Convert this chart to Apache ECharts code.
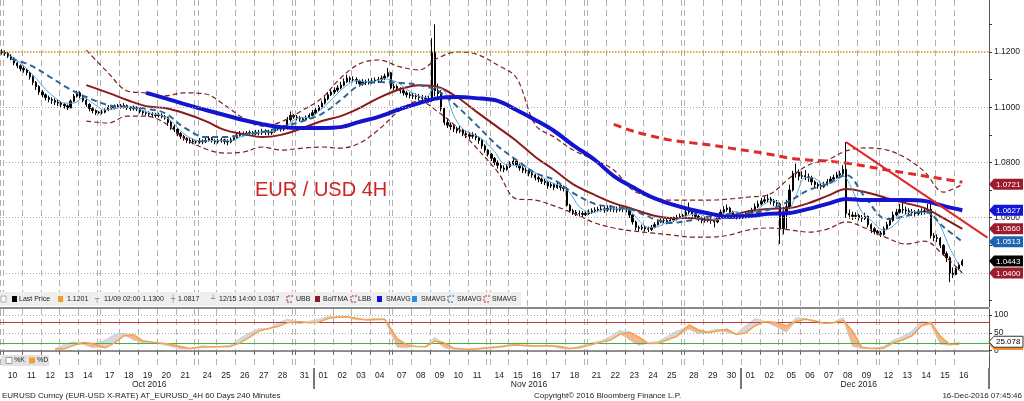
<!DOCTYPE html>
<html><head><meta charset="utf-8">
<script src="https://cdn.jsdelivr.net/npm/echarts@6/dist/echarts.min.js"></script>
<style>html,body{margin:0;padding:0;background:#fff}#c{width:1024px;height:401px}</style>
</head><body><div id="c"></div>
<script>
// ---------------- DATA ----------------
const dayLabels = ['10','11','12','13','14','17','18','19','20','21','24','25','26','27','28','31',
 '01','02','03','04','07','08','09','10','11','14','15','16','17','18','21','22','23','24','25','28','29','30',
 '01','02','05','06','07','08','09','12','13','14','15','16'];
const monthNames = ['Oct 2016','Nov 2016','Dec 2016'];
const weekendAfter = [4,9,14,19,24,29,34,39,44]; // Fridays (day index) followed by a weekend bar
const firstOpen = 1.1201;

// 4H bars (closes / highs / lows), one per bar slot
const closes = [
 1.1198,
 1.1195,1.1185,1.1178,1.1160,1.1150,1.1140,
 1.1135,1.1125,1.1110,1.1090,1.1075,1.1055,
 1.1045,1.1035,1.1028,1.1025,1.1018,1.1015,
 1.1010,1.1005,1.0998,1.1022,1.1040,1.1052,
 1.1040,1.1025,1.1010,1.0995,1.0988,1.0980, 1.0982,
 1.0982,1.0990,1.1000,1.0998,1.1003,1.1005,
 1.1002,1.1006,1.0998,1.0995,1.0998,1.0994,
 1.0985,1.0980,1.0978,1.0975,1.0972,1.0970,
 1.0972,1.0966,1.0962,1.0945,1.0930,1.0920,
 1.0905,1.0895,1.0888,1.0880,1.0878,1.0875, 1.0874,
 1.0878,1.0875,1.0880,1.0886,1.0880,1.0875,
 1.0878,1.0882,1.0876,1.0874,1.0882,1.0890,
 1.0898,1.0905,1.0903,1.0906,1.0908,1.0905,
 1.0910,1.0908,1.0912,1.0910,1.0908,1.0912,
 1.0922,1.0925,1.0920,1.0926,1.0955,1.0970, 1.0965,
 1.0962,1.0958,1.0955,1.0962,1.0970,1.0980,
 1.0990,1.1000,1.1015,1.1030,1.1045,1.1055,
 1.1062,1.1070,1.1080,1.1092,1.1105,1.1100,
 1.1100,1.1095,1.1085,1.1092,1.1090,1.1092,
 1.1095,1.1098,1.1100,1.1105,1.1112,1.1125, 1.1070,
 1.1075,1.1068,1.1060,1.1052,1.1045,1.1042,
 1.1040,1.1038,1.1035,1.1032,1.1030,1.1028,
 1.1200,1.1060,1.1050,1.0995,1.0945,1.0935,
 1.0930,1.0922,1.0915,1.0918,1.0905,1.0900,
 1.0895,1.0898,1.0890,1.0880,1.0860,1.0845, 1.0830,
 1.0815,1.0800,1.0790,1.0780,1.0775,1.0785,
 1.0795,1.0805,1.0790,1.0780,1.0772,1.0770,
 1.0760,1.0755,1.0745,1.0740,1.0732,1.0728,
 1.0715,1.0720,1.0710,1.0718,1.0710,1.0705,
 1.0645,1.0625,1.0620,1.0615,1.0615,1.0612, 1.0615,
 1.0620,1.0625,1.0628,1.0630,1.0632,1.0628,
 1.0635,1.0632,1.0630,1.0628,1.0635,1.0632,
 1.0630,1.0610,1.0585,1.0565,1.0562,1.0565,
 1.0560,1.0558,1.0565,1.0575,1.0585,1.0590,
 1.0590,1.0585,1.0592,1.0595,1.0600,1.0605, 1.0608,
 1.0620,1.0625,1.0615,1.0605,1.0598,1.0590,
 1.0592,1.0595,1.0590,1.0585,1.0600,1.0620,
 1.0630,1.0635,1.0620,1.0610,1.0605,1.0605,
 1.0608,1.0610,1.0615,1.0625,1.0640,1.0650,
 1.0660,1.0665,1.0668,1.0660,1.0655,1.0650, 1.0560,
 1.0620,1.0640,1.0700,1.0760,1.0765,1.0750,
 1.0752,1.0748,1.0745,1.0730,1.0720,1.0715,
 1.0712,1.0720,1.0730,1.0740,1.0745,1.0755,
 1.0760,1.0775,1.0615,1.0610,1.0605,1.0608,
 1.0600,1.0598,1.0605,1.0575,1.0560,1.0550, 1.0545,
 1.0540,1.0560,1.0575,1.0590,1.0610,1.0620,
 1.0630,1.0628,1.0625,1.0620,1.0618,1.0615,
 1.0620,1.0622,1.0625,1.0630,1.0535,1.0528,
 1.0525,1.0500,1.0470,1.0455,1.0400,1.0395,
 1.0415,1.0430,1.0443
];
const highs = [
 1.1210,
 1.1206,1.1200,1.1192,1.1182,1.1165,1.1155,
 1.1148,1.1140,1.1130,1.1115,1.1095,1.1080,
 1.1062,1.1050,1.1042,1.1036,1.1032,1.1028,
 1.1022,1.1016,1.1010,1.1028,1.1048,1.1060,
 1.1058,1.1045,1.1030,1.1015,1.1000,1.0992, 1.0986,
 1.0990,1.0996,1.1008,1.1006,1.1010,1.1012,
 1.1012,1.1015,1.1010,1.1004,1.1006,1.1003,
 1.0998,1.0990,1.0988,1.0985,1.0982,1.0980,
 1.0980,1.0978,1.0972,1.0966,1.0950,1.0936,
 1.0924,1.0910,1.0900,1.0892,1.0888,1.0886, 1.0880,
 1.0888,1.0884,1.0890,1.0895,1.0892,1.0884,
 1.0886,1.0890,1.0886,1.0884,1.0890,1.0898,
 1.0906,1.0914,1.0912,1.0914,1.0916,1.0914,
 1.0918,1.0918,1.0922,1.0920,1.0918,1.0920,
 1.0930,1.0932,1.0930,1.0935,1.0965,1.0985, 1.0975,
 1.0972,1.0968,1.0964,1.0970,1.0978,1.0990,
 1.0998,1.1008,1.1024,1.1040,1.1055,1.1065,
 1.1072,1.1080,1.1092,1.1104,1.1118,1.1112,
 1.1112,1.1108,1.1100,1.1102,1.1100,1.1104,
 1.1106,1.1108,1.1110,1.1115,1.1122,1.1142, 1.1128,
 1.1085,1.1082,1.1072,1.1066,1.1058,1.1054,
 1.1052,1.1050,1.1048,1.1045,1.1042,1.1040,
 1.1250,1.1300,1.1085,1.1062,1.1000,1.0958,
 1.0945,1.0938,1.0930,1.0932,1.0924,1.0915,
 1.0910,1.0910,1.0905,1.0896,1.0884,1.0866, 1.0848,
 1.0834,1.0820,1.0808,1.0798,1.0790,1.0795,
 1.0804,1.0816,1.0812,1.0796,1.0786,1.0782,
 1.0776,1.0768,1.0760,1.0752,1.0745,1.0740,
 1.0732,1.0730,1.0725,1.0728,1.0722,1.0716,
 1.0712,1.0650,1.0632,1.0628,1.0626,1.0624, 1.0622,
 1.0630,1.0634,1.0638,1.0640,1.0645,1.0640,
 1.0645,1.0646,1.0642,1.0640,1.0648,1.0644,
 1.0642,1.0634,1.0612,1.0590,1.0572,1.0575,
 1.0572,1.0568,1.0574,1.0584,1.0594,1.0598,
 1.0598,1.0596,1.0600,1.0604,1.0610,1.0615, 1.0614,
 1.0640,1.0655,1.0630,1.0620,1.0610,1.0604,
 1.0602,1.0606,1.0602,1.0596,1.0612,1.0630,
 1.0642,1.0648,1.0640,1.0625,1.0618,1.0616,
 1.0620,1.0622,1.0628,1.0636,1.0652,1.0662,
 1.0672,1.0678,1.0685,1.0675,1.0668,1.0664, 1.0655,
 1.0640,1.0665,1.0720,1.0770,1.0796,1.0775,
 1.0768,1.0772,1.0760,1.0752,1.0735,1.0728,
 1.0724,1.0730,1.0740,1.0750,1.0756,1.0766,
 1.0770,1.0790,1.0874,1.0630,1.0622,1.0620,
 1.0614,1.0610,1.0618,1.0608,1.0580,1.0566, 1.0556,
 1.0552,1.0568,1.0585,1.0600,1.0622,1.0632,
 1.0650,1.0654,1.0640,1.0634,1.0632,1.0628,
 1.0632,1.0634,1.0636,1.0650,1.0660,1.0545,
 1.0540,1.0530,1.0505,1.0478,1.0460,1.0420,
 1.0420,1.0438,1.0450
];
const lows = [
 1.1190,
 1.1186,1.1178,1.1170,1.1152,1.1142,1.1130,
 1.1125,1.1115,1.1100,1.1080,1.1062,1.1045,
 1.1036,1.1025,1.1018,1.1012,1.1008,1.1004,
 1.1000,1.0995,1.0990,1.0996,1.1018,1.1035,
 1.1032,1.1018,1.1002,1.0985,1.0978,1.0972, 1.0976,
 1.0974,1.0978,1.0986,1.0990,1.0992,1.0996,
 1.0995,1.0996,1.0990,1.0987,1.0988,1.0986,
 1.0978,1.0972,1.0970,1.0966,1.0964,1.0962,
 1.0963,1.0960,1.0955,1.0932,1.0918,1.0910,
 1.0895,1.0885,1.0879,1.0870,1.0868,1.0866, 1.0868,
 1.0868,1.0866,1.0870,1.0876,1.0872,1.0866,
 1.0868,1.0872,1.0866,1.0862,1.0870,1.0878,
 1.0886,1.0894,1.0894,1.0896,1.0898,1.0896,
 1.0898,1.0898,1.0900,1.0900,1.0898,1.0900,
 1.0908,1.0914,1.0912,1.0914,1.0920,1.0948, 1.0958,
 1.0952,1.0948,1.0946,1.0950,1.0958,1.0966,
 1.0975,1.0985,1.0995,1.1010,1.1025,1.1040,
 1.1048,1.1055,1.1065,1.1076,1.1088,1.1090,
 1.1090,1.1084,1.1075,1.1078,1.1080,1.1082,
 1.1084,1.1086,1.1088,1.1092,1.1098,1.1108, 1.1065,
 1.1062,1.1058,1.1050,1.1042,1.1035,1.1032,
 1.1030,1.1028,1.1024,1.1022,1.1018,1.1016,
 1.1020,1.1040,1.1025,1.0985,1.0935,1.0925,
 1.0918,1.0910,1.0905,1.0906,1.0895,1.0888,
 1.0885,1.0886,1.0880,1.0868,1.0850,1.0835, 1.0822,
 1.0805,1.0790,1.0778,1.0768,1.0765,1.0770,
 1.0780,1.0790,1.0782,1.0770,1.0762,1.0760,
 1.0750,1.0745,1.0735,1.0728,1.0722,1.0718,
 1.0705,1.0708,1.0700,1.0704,1.0698,1.0695,
 1.0640,1.0618,1.0610,1.0606,1.0605,1.0602, 1.0606,
 1.0610,1.0614,1.0618,1.0620,1.0622,1.0618,
 1.0622,1.0622,1.0620,1.0618,1.0622,1.0620,
 1.0620,1.0600,1.0575,1.0555,1.0552,1.0555,
 1.0550,1.0548,1.0552,1.0562,1.0572,1.0580,
 1.0580,1.0576,1.0582,1.0585,1.0590,1.0595, 1.0600,
 1.0605,1.0612,1.0605,1.0595,1.0588,1.0580,
 1.0582,1.0584,1.0578,1.0565,1.0580,1.0595,
 1.0615,1.0622,1.0608,1.0600,1.0594,1.0595,
 1.0596,1.0598,1.0602,1.0610,1.0622,1.0635,
 1.0645,1.0652,1.0655,1.0648,1.0642,1.0638, 1.0505,
 1.0540,1.0560,1.0635,1.0695,1.0745,1.0735,
 1.0740,1.0736,1.0730,1.0718,1.0708,1.0705,
 1.0702,1.0708,1.0716,1.0726,1.0734,1.0742,
 1.0748,1.0755,1.0600,1.0596,1.0592,1.0595,
 1.0590,1.0585,1.0592,1.0565,1.0545,1.0540, 1.0538,
 1.0530,1.0535,1.0555,1.0570,1.0585,1.0605,
 1.0615,1.0615,1.0612,1.0608,1.0606,1.0604,
 1.0608,1.0610,1.0612,1.0615,1.0525,1.0515,
 1.0512,1.0490,1.0462,1.0440,1.0367,1.0382,
 1.0392,1.0410,1.0425
];

// indicator lines, one value per trading day
const ubb = [null,null,null,null,1.1207,
 1.1124,1.1059,1.1052,1.1041,1.1052, 1.1048,1.1008,1.0961,1.0932,1.0947,
 1.0990,1.1033,1.1106,1.1157,1.1171, 1.1146,1.1135,1.1178,1.1200,1.1193,
 1.1153,1.1106,1.0936,1.0892,1.0845, 1.0809,1.0773,1.0700,1.0675,1.0664,
 1.0664,1.0664,1.0668,1.0675,1.0682, 1.0744,1.0791,1.0809,1.0842,1.0853,
 1.0845,1.0816,1.0766,1.0693,1.0721];
const bolTMA = [null,null,null,null,1.1080,
 1.1052,1.1026,1.1004,1.0997,1.0979, 1.0950,1.0918,1.0903,1.0892,1.0900,
 1.0925,1.0950,1.0968,1.0997,1.1033, 1.1066,1.1080,1.1073,1.1037,1.0986,
 1.0928,1.0878,1.0820,1.0773,1.0722, 1.0682,1.0653,1.0632,1.0610,1.0599,
 1.0599,1.0592,1.0606,1.0624,1.0632, 1.0635,1.0653,1.0679,1.0704,1.0693,
 1.0671,1.0653,1.0635,1.0599,1.0560];
const lbb = [null,null,null,null,1.0950,
 1.0943,1.0968,1.0968,1.0943,1.0889, 1.0849,1.0834,1.0838,1.0856,1.0845,
 1.0852,1.0856,1.0852,1.0870,1.0918, 1.0990,1.1023,1.0983,1.0928,1.0856,
 1.0766,1.0668,1.0664,1.0643,1.0617, 1.0581,1.0563,1.0552,1.0545,1.0538,
 1.0530,1.0530,1.0538,1.0556,1.0563, 1.0556,1.0548,1.0559,1.0585,1.0563,
 1.0527,1.0505,1.0515,1.0465,1.0400];
const smaLong = [null,null,null,null,null,null,null,
 1.1052,1.1033,1.1012, 1.0990,1.0972,1.0954,1.0939,1.0928,
 1.0925,1.0925,1.0928,1.0947,1.0965, 1.0994,1.1015,1.1033,1.1037,1.1033,
 1.1023,1.0990,1.0954,1.0914,1.0863, 1.0809,1.0751,1.0711,1.0675,1.0650,
 1.0628,1.0614,1.0603,1.0606,1.0614, 1.0617,1.0632,1.0650,1.0668,1.0664,
 1.0664,1.0664,1.0661,1.0643,1.0627];
const smaMid = [1.1175,1.1153,1.1113,1.1070,1.1037,
 1.1008,1.1001,1.0994,1.0979,1.0928, 1.0892,1.0892,1.0900,1.0910,1.0928,
 1.0950,1.0976,1.1026,1.1080,1.1091, 1.1088,1.1080,1.1059,1.1004,1.0939,
 1.0860,1.0809,1.0762,1.0737,1.0690, 1.0650,1.0639,1.0628,1.0599,1.0581,
 1.0592,1.0606,1.0614,1.0617,1.0628, 1.0661,1.0700,1.0722,1.0755,1.0675,
 1.0595,1.0606,1.0624,1.0567,1.0513];
const smaSlow = [null,null,null,null,null, null,null,null,null,null,
 null,null,null,null,null, null,null,null,null,null, null,null,null,null,null,
 null,null,null,null,null, null,1.0938,1.0914,1.0896,1.0881,
 1.0871,1.0863,1.0852,1.0842,1.0831, 1.0816,1.0809,1.0805,1.0798,1.0787,
 1.0773,1.0762,1.0751,1.0740,1.0729];
// two readings per trading day
const smaFast = [
 1.1190,1.1170, 1.1140,1.1105, 1.1065,1.1035, 1.1015,1.1015, 1.1035,1.1015,
 1.0990,1.0995, 1.1002,1.0998, 1.0988,1.0977, 1.0970,1.0950, 1.0915,1.0890,
 1.0877,1.0879, 1.0879,1.0878, 1.0892,1.0904, 1.0908,1.0910, 1.0917,1.0935,
 1.0962,1.0962, 1.0985,1.1015, 1.1050,1.1080, 1.1097,1.1092, 1.1094,1.1103,
 1.1090,1.1065, 1.1045,1.1035, 1.1070,1.1060, 1.0970,1.0920, 1.0903,1.0885,
 1.0840,1.0795, 1.0790,1.0789, 1.0770,1.0750, 1.0728,1.0715, 1.0690,1.0640,
 1.0618,1.0627, 1.0632,1.0632, 1.0627,1.0590, 1.0565,1.0568, 1.0584,1.0592,
 1.0610,1.0613, 1.0598,1.0592, 1.0610,1.0622, 1.0610,1.0622, 1.0650,1.0662,
 1.0620,1.0680, 1.0745,1.0742, 1.0722,1.0728, 1.0750,1.0700, 1.0620,1.0590,
 1.0555,1.0570, 1.0605,1.0622, 1.0620,1.0612, 1.0570,1.0490, 1.0428,null];
const stochK = [
 null,null, null,null, null,5, 18,25, 18,8,
 30,45, 48,30, 22,24, 18,12, 5,5,
 14,10, 12,16, 35,50, 62,60, 78,88,
 76,82, 88,96, 96,94, 86,88, 90,88,
 10,8, 12,12, 38,8, 4,4, 5,8,
 12,14, 20,13, 12,14, 14,6, 5,12,
 22,28, 40,58, 30,15, 22,26, 40,55,
 60,48, 55,60, 52,48, 70,90, 82,70,
 52,92, 90,80, 76,80, 92,12, 6,6,
 12,30, 40,55, 82,72, 18,15, 25.078,null];
const stochD = [
 null,null, null,null, null,5, 5,15, 23,20,
 8,22, 42,45, 28,24, 21,18, 12,6,
 10,11, 11,12, 22,38, 55,62, 68,78,
 81,78, 80,90, 94,95, 91,86, 87,88,
 34,17, 12,11, 27,22, 7,5, 4,6,
 9,12, 16,15, 14,13, 14,12, 6,8,
 17,24, 30,46, 52,38, 20,21, 30,40,
 72,58, 50,55, 60,45, 50,70, 81,80,
 70,82, 88,84, 77,78, 85,55, 10,6,
 7,22, 30,42, 70,80, 40,18, 17,null];
const trendValues = [1.0874, 1.0528]; // drawn trend line: from Dec 8 high to right edge
const priceGrid = [1.04, 1.06, 1.08, 1.10];
const priceTickLabels = [1.04, 1.06, 1.08, 1.10, 1.12];
const priceMinorTicks = [1.03,1.04,1.05,1.06,1.07,1.08,1.09,1.10,1.11,1.12,1.13];
const stochLabels = [0, 50, 100];
const stochLevels = {over: 80, under: 20};
const legendTexts = {first:'1.1201', high:'11/09 02:00 1.1300', avg:'1.0817', low:'12/15 14:00 1.0367'};

// ---------------- LAYOUT ----------------
const FONT = '"Liberation Sans", Arial, Helvetica, sans-serif';
const slotNames = [], dayFirst = [], vlines = new Set([0]);
slotNames.push('wk-start');
dayLabels.forEach((lab, d) => {
  dayFirst[d] = slotNames.length; vlines.add(slotNames.length);
  for (let k = 0; k < 6; k++) slotNames.push('d' + d + '_' + k);
  if (weekendAfter.includes(d)) { vlines.add(slotNames.length); slotNames.push('wk' + d); }
});
for (let k = 0; k < 5; k++) slotNames.push('tail' + k);
const lastSlot = slotNames.length - 1;
const labelMap = new Map(dayLabels.map((l, d) => [dayFirst[d] + 2, l]));
const monthLabelMap = new Map([[dayFirst[7] + 3, monthNames[0]], [dayFirst[27], monthNames[1]], [dayFirst[44], monthNames[2]]]);
const monthSep = new Set([dayFirst[16], dayFirst[38]]);

const candles = closes.map((c, i) => [i === 0 ? firstOpen : closes[i - 1], c, lows[i], highs[i]]);
const daily = arr => arr.map((v, d) => v == null ? null : [dayFirst[d] + 2, v]).filter(Boolean);
const half = arr => arr.map((v, j) => v == null ? null : [dayFirst[Math.floor(j / 2)] + (j % 2 ? 4 : 1), v]).filter(Boolean);
const kPts = half(stochK), dPts = half(stochD);
const stBase = kPts.map((p, i) => [p[0], Math.min(p[1], dPts[i][1])]);
const stOrange = kPts.map((p, i) => [p[0], Math.max(dPts[i][1] - p[1], 0)]);
const stGray = kPts.map((p, i) => [p[0], Math.max(p[1] - dPts[i][1], 0)]);

const vSplit = {show: true, interval: i => vlines.has(i), lineStyle: {color: '#b2b2b2', type: [6, 4], width: 1}};
const lineS = (name, data, color, width, type, z) => ({
  name, type: 'line', xAxisIndex: 0, yAxisIndex: 0, data, smooth: 0.35, connectNulls: true,
  showSymbol: false, symbol: 'none', silent: true, z: z || 3,
  lineStyle: {color, width, type: type || 'solid'}
});
const noMark = {symbol: ['none', 'none'], silent: true, label: {show: false}};

const chart = echarts.init(document.getElementById('c'), null, {renderer: 'canvas'});
chart.setOption({
  animation: false,
  backgroundColor: '#ffffff',
  textStyle: {fontFamily: FONT},
  grid: [
    {left: 0, top: 0, width: 989, height: 307, outerBoundsMode: 'none'},
    {left: 0, top: 309, width: 989, height: 59, outerBoundsMode: 'none'}
  ],
  xAxis: [
    {type: 'category', gridIndex: 0, data: slotNames, boundaryGap: true,
     axisLine: {show: false}, axisTick: {show: false}, axisLabel: {show: false}, splitLine: vSplit},
    {type: 'category', gridIndex: 1, data: slotNames, boundaryGap: true, position: 'bottom',
     axisLine: {show: true, lineStyle: {color: '#8c8c8c', width: 2}},
     axisTick: {show: true, interval: i => vlines.has(i), length: 4, lineStyle: {color: '#666'}},
     axisLabel: {interval: i => labelMap.has(i), formatter: (v, i) => labelMap.get(i) || '',
       fontSize: 8.5, color: '#222', margin: 3, padding: [0, 0, 0, 3], fontFamily: FONT},
     splitLine: vSplit},
    {type: 'category', gridIndex: 1, data: slotNames, boundaryGap: true, position: 'bottom',
     axisLine: {show: false},
     axisTick: {show: true, interval: i => monthSep.has(i), length: 21, lineStyle: {color: '#777', width: 2}},
     axisLabel: {interval: i => monthLabelMap.has(i), formatter: (v, i) => monthLabelMap.get(i) || '',
       fontSize: 8.5, color: '#222', margin: 12, fontFamily: FONT},
     splitLine: {show: false}}
  ],
  yAxis: [
    {type: 'value', gridIndex: 0, position: 'right', min: 1.02769, max: 1.13882, scale: true,
     axisLine: {show: true, lineStyle: {color: '#555'}},
     axisTick: {show: true, customValues: priceMinorTicks, length: 3, lineStyle: {color: '#333'}},
     axisLabel: {customValues: priceTickLabels, formatter: v => v.toFixed(4), fontSize: 8.5, color: '#222', margin: 5, fontFamily: FONT},
     splitLine: {show: false}},
    {type: 'value', gridIndex: 1, position: 'right', min: -48.5, max: 116.8,
     axisLine: {show: true, lineStyle: {color: '#555'}},
     axisTick: {show: true, customValues: stochLabels, length: 3, lineStyle: {color: '#333'}},
     axisLabel: {customValues: stochLabels, formatter: v => String(v), fontSize: 8.5, color: '#222', margin: 5, fontFamily: FONT},
     splitLine: {show: false}}
  ],
  series: [
    {type: 'line', name: 'grid', xAxisIndex: 0, yAxisIndex: 0, data: [], z: 1, silent: true,
     markLine: Object.assign({data: priceGrid.map(v => ({yAxis: v, lineStyle: {color: '#a8a8a8', type: [1, 2], width: 1}}))
       .concat([{yAxis: firstOpen, lineStyle: {color: '#c49a18', type: [1.5, 1.5], width: 1.5}}])}, noMark)},
    {type: 'candlestick', name: 'Last Price', xAxisIndex: 0, yAxisIndex: 0, data: candles, barWidth: 1.8, z: 2, silent: true,
     itemStyle: {color: '#000', color0: '#000', borderColor: '#000', borderColor0: '#000', borderWidth: 1}},
    lineS('UBB', daily(ubb), '#7e1f22', 1.2, [5, 3]),
    lineS('LBB', daily(lbb), '#7e1f22', 1.2, [5, 3]),
    lineS('BolTMA', daily(bolTMA), '#8b1a1a', 2),
    lineS('SMAVG fast', half(smaFast), '#5aa6e0', 1),
    lineS('SMAVG mid', daily(smaMid), '#2c6594', 2, [6, 4]),
    lineS('SMAVG long', daily(smaLong), '#1414d0', 4, 'solid', 4),
    lineS('SMAVG slow', daily(smaSlow), '#e02a2a', 3, [8, 5], 4),
    {type: 'line', name: 'trend', xAxisIndex: 0, yAxisIndex: 0, silent: true, z: 5, showSymbol: false, symbol: 'none',
     data: [[dayFirst[43] + 2, trendValues[0]], [lastSlot, trendValues[1]]], lineStyle: {color: '#e02828', width: 2}},
    // stochastic
    {type: 'line', name: 'stbase', xAxisIndex: 1, yAxisIndex: 1, data: stBase, stack: 'st', symbol: 'none', silent: true,
     lineStyle: {opacity: 0}, z: 2,
     markLine: Object.assign({data: stochLabels.map(v => ({yAxis: v, lineStyle: {color: '#a8a8a8', type: [1, 2], width: 1}}))
       .concat([{yAxis: stochLevels.over, lineStyle: {color: '#c03a3a', type: 'solid', width: 1}},
                {yAxis: stochLevels.under, lineStyle: {color: '#44b044', type: 'solid', width: 1}}])}, noMark)},
    {type: 'line', name: 'storange', xAxisIndex: 1, yAxisIndex: 1, data: stOrange, stack: 'st', symbol: 'none', silent: true,
     lineStyle: {opacity: 0}, areaStyle: {color: '#f6ad80', opacity: 0.9}, z: 3},
    {type: 'line', name: 'stgray', xAxisIndex: 1, yAxisIndex: 1, data: stGray, stack: 'st', symbol: 'none', silent: true,
     lineStyle: {opacity: 0}, areaStyle: {color: '#d4d4d4', opacity: 0.9}, z: 3},
    {type: 'line', name: '%K', xAxisIndex: 1, yAxisIndex: 1, data: kPts, symbol: 'none', silent: true, z: 4,
     lineStyle: {color: '#d0d0d0', width: 1}},
    {type: 'line', name: '%D', xAxisIndex: 1, yAxisIndex: 1, data: dPts, symbol: 'none', silent: true, z: 5,
     lineStyle: {color: '#f2a14c', width: 1.5}}
  ]
});

// ---------------- DECORATIONS ----------------
const g = [];
const text = (x, y, t, st) => g.push({type: 'text', x, y, silent: true, z: 100,
  style: Object.assign({text: t, fontSize: 7, fontFamily: FONT, fill: '#222', align: 'left', verticalAlign: 'middle'}, st || {})});
const rect = (x, y, w, h, st) => g.push({type: 'rect', silent: true, z: 100, shape: {x, y, width: w, height: h}, style: st});
const dashIcon = (x, color) => g.push({type: 'polyline', silent: true, z: 100,
  shape: {points: [[x + 6, 296], [x, 296], [x, 302], [x + 6, 302]]}, style: {stroke: color, lineWidth: 1, lineDash: [2, 1], fill: null}});

// separator between panels
g.push({type: 'line', silent: true, z: 90, shape: {x1: 0, y1: 308, x2: 989, y2: 308}, style: {stroke: '#8a8a8a', lineWidth: 2}});
// legend band
rect(0, 292, 521, 14, {fill: '#eeeeee'});
rect(1, 296, 5, 6, {fill: '#fff', stroke: '#aaa', lineWidth: 1});
rect(12, 296, 5, 6, {fill: '#000'}); text(19, 299.5, 'Last Price');
rect(58, 296, 5, 6, {fill: '#f0a020'}); text(67, 299.5, legendTexts.first);
text(95, 299.5, '┬', {fontFamily: 'DejaVu Sans', fill: '#777'}); text(104, 299.5, legendTexts.high);
text(171, 299.5, '┼', {fontFamily: 'DejaVu Sans', fill: '#777'}); text(178, 299.5, legendTexts.avg);
text(211, 299.5, '┴', {fontFamily: 'DejaVu Sans', fill: '#777'}); text(219, 299.5, legendTexts.low);
dashIcon(287, '#a03030'); text(296, 299.5, 'UBB');
rect(315, 296, 5, 6, {fill: '#8b1a2a'}); text(323, 299.5, 'BolTMA');
dashIcon(351, '#a03030'); text(358, 299.5, 'LBB');
rect(377, 296, 5, 6, {fill: '#1414d0'}); text(386, 299.5, 'SMAVG');
rect(412, 296, 5, 6, {fill: '#2e8ce6'}); text(421, 299.5, 'SMAVG');
dashIcon(448, '#2f5f8f'); text(457, 299.5, 'SMAVG');
dashIcon(484, '#d03030'); text(492, 299.5, 'SMAVG');
// stochastic legend
rect(1, 355, 48, 11, {fill: '#e2e2e2'});
rect(6, 357.5, 6, 6, {fill: '#fff', stroke: '#999', lineWidth: 1}); text(14, 360.5, '%K');
rect(29, 357.5, 6, 6, {fill: '#f0a030'}); text(37, 360.5, '%D');
// title
text(255, 190, 'EUR / USD 4H', {fontSize: 20, fill: '#d02222'});
// footer
text(2, 396, 'EURUSD Curncy (EUR-USD X-RATE) AT_EURUSD_4H 60 Days 240 Minutes', {fontSize: 8});
text(534, 396, 'Copyright\u00a9 2016 Bloomberg Finance L.P.', {fontSize: 8});
text(1022, 396, '16-Dec-2016 07:45:46', {fontSize: 8, align: 'right'});

// value tags on the right axis
function tag(axis, value, label, bg, fg, stroke) {
  const y = chart.convertToPixel({yAxisIndex: axis}, value);
  const x0 = 989, x1 = 1023, h = 5.5;
  g.push({type: 'polygon', silent: true, z: 110, shape: {points: [[x0, y], [x0 + 5, y - h], [x1, y - h], [x1, y + h], [x0 + 5, y + h]]},
    style: {fill: bg, stroke: stroke || bg, lineWidth: stroke ? 1 : 0}});
  g.push({type: 'text', silent: true, z: 111, x: x0 + 7, y: y + 0.5,
    style: {text: label, fill: fg, fontSize: 8, fontFamily: FONT, verticalAlign: 'middle'}});
}
const last = a => { for (let i = a.length - 1; i >= 0; i--) if (a[i] != null) return a[i]; };
tag(0, last(ubb), last(ubb).toFixed(4), '#9c1c2e', '#fff');
tag(0, last(smaLong), last(smaLong).toFixed(4), '#1414d8', '#fff');
tag(0, last(bolTMA), last(bolTMA).toFixed(4), '#9c1c2e', '#fff');
tag(0, last(smaMid), last(smaMid).toFixed(4), '#1d64b0', '#fff');
tag(0, last(closes), last(closes).toFixed(4), '#000', '#fff');
tag(0, last(lbb), last(lbb).toFixed(4), '#9c1c2e', '#fff');
tag(1, last(stochD), '', '#f09030', '#fff');
tag(1, last(stochK), last(stochK).toFixed(3), '#fff', '#000', '#333');

chart.setOption({graphic: g});
</script>
</body></html>
